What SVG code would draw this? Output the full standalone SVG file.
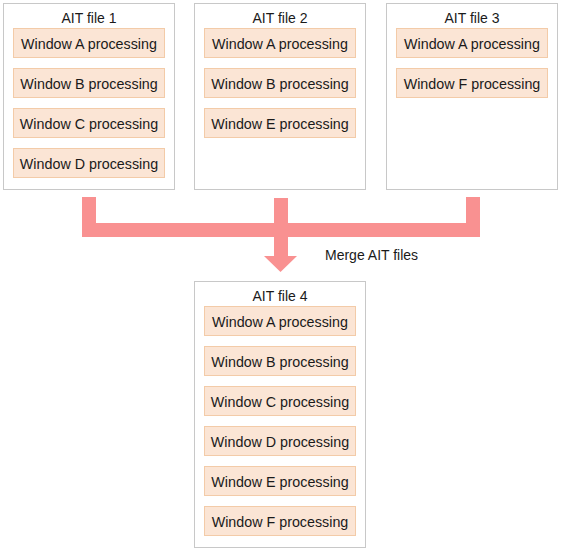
<svg xmlns="http://www.w3.org/2000/svg" width="561" height="551" viewBox="0 0 561 551">
<style>
.file{fill:#fff;stroke:#c8c8c8;stroke-width:1}
.item{fill:#fbe5d5;stroke:#f3cba8;stroke-width:1}
text{font-family:"Liberation Sans",Arial,sans-serif;font-size:14px;fill:#1a1a1a;text-anchor:middle}
.it{font-size:14.3px}
.flow{fill:#f99191}
</style>
<rect width="561" height="551" fill="#fff"/>
<g id="file1">
<rect class="file" x="3.5" y="3.5" width="171" height="186"/>
<text x="89" y="23">AIT file 1</text>
<rect class="item" x="13.5" y="28.5" width="151" height="29"/><text class="it" x="89" y="48.5">Window A processing</text>
<rect class="item" x="13.5" y="68.5" width="151" height="29"/><text class="it" x="89" y="88.5">Window B processing</text>
<rect class="item" x="13.5" y="108.5" width="151" height="29"/><text class="it" x="89" y="128.5">Window C processing</text>
<rect class="item" x="13.5" y="148.5" width="151" height="29"/><text class="it" x="89" y="168.5">Window D processing</text>
</g>
<g id="file2">
<rect class="file" x="194.5" y="3.5" width="171" height="186"/>
<text x="280" y="23">AIT file 2</text>
<rect class="item" x="204.5" y="28.5" width="151" height="29"/><text class="it" x="280" y="48.5">Window A processing</text>
<rect class="item" x="204.5" y="68.5" width="151" height="29"/><text class="it" x="280" y="88.5">Window B processing</text>
<rect class="item" x="204.5" y="108.5" width="151" height="29"/><text class="it" x="280" y="128.5">Window E processing</text>
</g>
<g id="file3">
<rect class="file" x="386.5" y="3.5" width="171" height="186"/>
<text x="472" y="23">AIT file 3</text>
<rect class="item" x="396.5" y="28.5" width="151" height="29"/><text class="it" x="472" y="48.5">Window A processing</text>
<rect class="item" x="396.5" y="68.5" width="151" height="29"/><text class="it" x="472" y="88.5">Window F processing</text>
</g>
<g id="connectors">
<path class="flow" d="M82,197 H96 V223 H274 V198 H288 V223 H466 V197 H480 V237 H288 V256 H297 L280.5,272 L264,256 H274 V237 H82 Z"/>
</g>
<text x="325" y="260" style="text-anchor:start;font-size:14px">Merge AIT files</text>
<g id="file4">
<rect class="file" x="194.5" y="281.5" width="171" height="266"/>
<text x="280" y="301">AIT file 4</text>
<rect class="item" x="204.5" y="306.5" width="151" height="29"/><text class="it" x="280" y="326.5">Window A processing</text>
<rect class="item" x="204.5" y="346.5" width="151" height="29"/><text class="it" x="280" y="366.5">Window B processing</text>
<rect class="item" x="204.5" y="386.5" width="151" height="29"/><text class="it" x="280" y="406.5">Window C processing</text>
<rect class="item" x="204.5" y="426.5" width="151" height="29"/><text class="it" x="280" y="446.5">Window D processing</text>
<rect class="item" x="204.5" y="466.5" width="151" height="29"/><text class="it" x="280" y="486.5">Window E processing</text>
<rect class="item" x="204.5" y="506.5" width="151" height="29"/><text class="it" x="280" y="526.5">Window F processing</text>
</g>
</svg>
